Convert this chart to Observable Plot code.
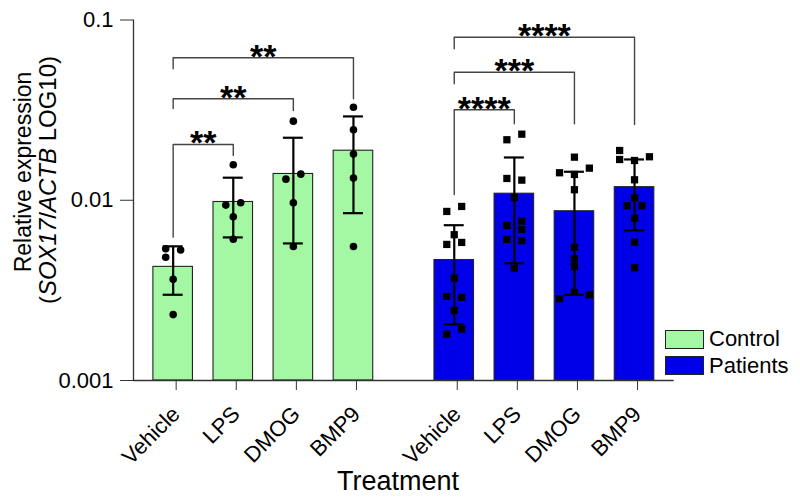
<!DOCTYPE html>
<html><head><meta charset="utf-8">
<script src="https://cdn.jsdelivr.net/npm/d3@7"></script>
<script src="https://cdn.jsdelivr.net/npm/@observablehq/plot@0.6"></script>
<style>
body{margin:0;background:#fff;font-family:"Liberation Sans",Arial,sans-serif;}
#wrap{position:relative;width:800px;height:501px;overflow:hidden;}
#legend{position:absolute;left:665px;top:326px;font-size:22px;color:#000;}
#legend .item{display:flex;align-items:center;height:26.6px;}
#legend .sw{width:37px;height:17px;border:1px solid #222;margin-right:5px;box-sizing:content-box;}
</style></head><body>
<div id="wrap"><div id="legend"></div></div>
<script>
// ---------- data ----------
const treatments = ["Vehicle", "LPS", "DMOG", "BMP9"];
const groups = ["Control", "Patients"];
const groupColors = ["#a4f8a4", "#0000e8"];

const controlMean = [0.00427, 0.00978, 0.01399, 0.01883];
const controlSD   = [0.00128, 0.00356, 0.00823, 0.01035];
const patientMean = [0.00466, 0.01087, 0.00869, 0.01182];
const patientSD   = [0.00261, 0.00640, 0.00570, 0.00502];

const controlValues = [
  [0.00538, 0.00530, 0.00483, 0.00364, 0.00232],
  [0.01574, 0.00940, 0.00969, 0.00810, 0.00608],
  [0.02746, 0.01309, 0.01396, 0.00969, 0.00554],
  [0.0328, 0.0246, 0.01803, 0.01327, 0.00554]
];
const controlCols = [[-1, 1, -1, 0, 0], [0, -1, 1, 0, 0], [0, -1, 1, 0, 0], [0, 0, 0, 0, 0]];

const patientValues = [
  [0.008668, 0.009238, 0.006438, 0.005687, 0.005834, 0.003698, 0.002928, 0.002891, 0.002447, 0.001808, 0.001928],
  [0.02166, 0.02326, 0.01321, 0.01293, 0.01036, 0.007247, 0.007656, 0.006887, 0.006064, 0.005964, 0.004201],
  [0.01734, 0.01421, 0.01390, 0.01507, 0.01144, 0.005495, 0.004738, 0.004293, 0.002843, 0.003081, 0.002991],
  [0.01888, 0.01683, 0.01662, 0.01743, 0.01299, 0.01032, 0.009322, 0.009322, 0.007955, 0.005855, 0.004222]
];
const patientCols = [
  [-1, 1, 0, -1, 1, 0, -1, 1, 0, -1, 1],
  [-1, 1, -1, 1, 0, -1, 1, 1, -1, 1, 0],
  [0, -2, 0, 2, 0, 0, 0, 0, -2, 0, 2],
  [-2, -2, 0, 2, 0, 0, -1, 1, 0, 0, 0]
];

const bracketGroup    = ["Control", "Control", "Control", "Patients", "Patients", "Patients"];
const bracketTo       = ["LPS", "DMOG", "BMP9", "LPS", "DMOG", "BMP9"];
const bracketLevel    = [0.0204, 0.03656, 0.0617, 0.03177, 0.05135, 0.08029];
const bracketLeftEnd  = [0.006242, 0.0323, 0.05361, 0.01077, 0.04427, 0.06922];
const bracketRightEnd = [0.01772, 0.03148, 0.03656, 0.02656, 0.02656, 0.02633];
const bracketLabel    = ["**", "**", "**", "****", "***", "****"];

const yTicks = [0.001, 0.01, 0.1];

// ---------- layout helpers ----------
const groupGap = 0.677;
const pos = (g, t) => treatments.indexOf(t) + groups.indexOf(g) * (treatments.length + groupGap);
const barHalf = 0.329, capHalf = 0.166, colStep = 0.124;
const xDomain = [-0.66, pos("Patients", "BMP9") + 0.66];
const yMin = yTicks[0];

const summary = [];
groups.forEach((g, gi) => treatments.forEach((t, ti) => {
  const m = gi === 0 ? controlMean[ti] : patientMean[ti];
  const s = gi === 0 ? controlSD[ti] : patientSD[ti];
  summary.push({group: g, treatment: t, x: pos(g, t), mean: m, lo: m - s, hi: m + s, color: groupColors[gi]});
}));

const points = [];
groups.forEach((g, gi) => treatments.forEach((t, ti) => {
  const vals = gi === 0 ? controlValues[ti] : patientValues[ti];
  const cols = gi === 0 ? controlCols[ti] : patientCols[ti];
  vals.forEach((v, k) => points.push({group: g, x: pos(g, t) + cols[k] * colStep, value: v}));
}));

const brackets = bracketGroup.map((g, i) => ({
  id: i, x1: pos(g, "Vehicle"), x2: pos(g, bracketTo[i]),
  level: bracketLevel[i], l: bracketLeftEnd[i], r: bracketRightEnd[i], label: bracketLabel[i]
}));
const bracketPath = brackets.flatMap(b => [
  {id: b.id, x: b.x1, y: b.l}, {id: b.id, x: b.x1, y: b.level},
  {id: b.id, x: b.x2, y: b.level}, {id: b.id, x: b.x2, y: b.r}
]);

const xTicks = groups.flatMap(g => treatments.map(t => pos(g, t)));
const xTickLabels = groups.flatMap(() => treatments);

const ink = "#222";

const chart = Plot.plot({
  width: 800,
  height: 501,
  marginLeft: 133,
  marginRight: 126.3,
  marginTop: 19.5,
  marginBottom: 121,
  style: {fontFamily: "'Liberation Sans', Arial, sans-serif", color: "#000", background: "#fff"},
  x: {type: "linear", domain: xDomain},
  y: {type: "log", domain: [yMin, 0.1]},
  marks: [
    Plot.rect(summary, {x1: d => d.x - barHalf, x2: d => d.x + barHalf, y1: () => yMin, y2: "mean", fill: "color", stroke: ink, strokeWidth: 1.1}),
    Plot.dot(points.filter(p => p.group === "Control"), {x: "x", y: "value", r: 3.8, fill: "#000", symbol: "circle"}),
    Plot.dot(points.filter(p => p.group === "Patients"), {x: "x", y: "value", r: 4.1, fill: "#000", symbol: "square"}),
    Plot.ruleX(summary, {x: "x", y1: "lo", y2: "hi", stroke: "#000", strokeWidth: 2.2}),
    Plot.ruleY(summary, {y: "hi", x1: d => d.x - capHalf, x2: d => d.x + capHalf, stroke: "#000", strokeWidth: 2.2}),
    Plot.ruleY(summary, {y: "lo", x1: d => d.x - capHalf, x2: d => d.x + capHalf, stroke: "#000", strokeWidth: 2.2}),
    Plot.line(bracketPath, {x: "x", y: "y", z: "id", stroke: "#444", strokeWidth: 1.4}),
    Plot.text(brackets, {x: d => (d.x1 + d.x2) / 2, y: "level", text: "label", fontSize: 34, fontWeight: "bold", dy: -1, fill: "#000"}),
    Plot.ruleY([yMin], {stroke: "#333", strokeWidth: 1.3}),
    Plot.ruleX([xDomain[0]], {y1: yMin, y2: 0.1, stroke: "#333", strokeWidth: 1.3}),
    Plot.axisY({ticks: yTicks, tickFormat: d => String(d), tickSize: 13, tickPadding: 7, fontSize: 22, label: null, stroke: "#333"}),
    Plot.axisX({ticks: xTicks, tickFormat: d => xTickLabels[xTicks.indexOf(d)], tickRotate: -45, tickSize: 10, tickPadding: 20, dx: 3, fontSize: 22, label: null, stroke: "#333"})
  ]
});

const svg = d3.select(chart);
// y-axis title (two lines, italic gene names)
const yl1 = svg.append("text").attr("transform", "translate(31,172) rotate(-90)")
  .attr("text-anchor", "middle").attr("font-size", 23).attr("fill", "#000");
yl1.append("tspan").text("Relative expression");
const yl2 = svg.append("text").attr("transform", "translate(56,180) rotate(-90)")
  .attr("text-anchor", "middle").attr("font-size", 24).attr("fill", "#000");
yl2.append("tspan").text("(");
yl2.append("tspan").attr("font-style", "italic").text("SOX17");
yl2.append("tspan").text("/");
yl2.append("tspan").attr("font-style", "italic").text("ACTB");
yl2.append("tspan").text("\u00a0LOG10)");
// x-axis title
svg.append("text").attr("x", 398).attr("y", 490).attr("text-anchor", "middle")
  .attr("font-size", 27).attr("fill", "#000").text("Treatment");

document.getElementById("wrap").prepend(chart);

// legend
const legend = d3.select("#legend");
groups.forEach((g, i) => {
  const it = legend.append("div").attr("class", "item");
  it.append("div").attr("class", "sw").style("background", groupColors[i]);
  it.append("span").text(g);
});
</script>
</body></html>
